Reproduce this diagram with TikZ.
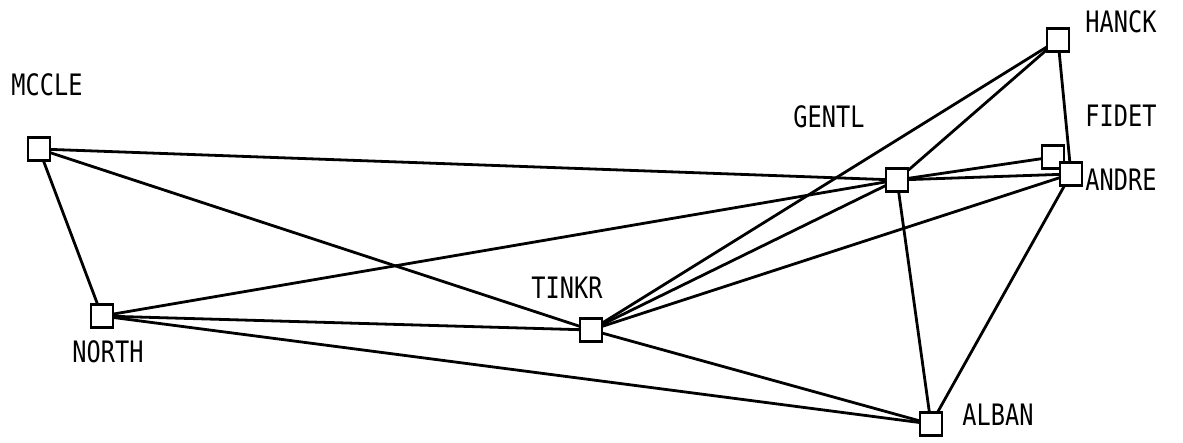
\documentclass[tikz,border=0pt]{standalone}
\usepackage{fontspec}
\setmainfont{DejaVu Sans Mono}[FakeStretch=0.8]
\usetikzlibrary{backgrounds}
\tikzset{
  station/.style={draw, fill=white, line width=2.6pt, minimum width=22pt, minimum height=23pt, inner sep=0pt},
  lbl/.style={font=\fontsize{29.5}{32}\selectfont, inner sep=0pt, anchor=center},
  link/.style={line width=2.8pt}
}
\begin{document}
\begin{tikzpicture}[x=1pt,y=-1pt]
\useasboundingbox (0,0) rectangle (1183,443);
% stations
\node[station] (mccle) at (39,149) {};
\node[station] (north) at (102,316) {};
\node[station] (tinkr) at (591,330) {};
\node[station] (alban) at (931,424) {};
\node[station] (hanck) at (1058,40) {};
\node[station] (gentl) at (897,180) {};
\node[station] (fidet) at (1053,157) {};
\node[station] (andre) at (1071,174) {};
% labels
\node[lbl] (lmccle) at (47,85) {MCCLE};
\node[lbl] (lnorth) at (108,352) {NORTH};
\node[lbl] (ltinkr) at (567,288) {TINKR};
\node[lbl] (lalban) at (998,415) {ALBAN};
\node[lbl] (lhanck) at (1121,22) {HANCK};
\node[lbl] (lfidet) at (1121,116) {FIDET};
\node[lbl] (landre) at (1121,180) {ANDRE};
\node[lbl] (lgentl) at (829,117) {GENTL};
% links
\begin{scope}[on background layer]
\draw[link] (mccle.center) -- (north.center);
\draw[link] (mccle.center) -- (gentl.center);
\draw[link] (mccle.center) -- (tinkr.center);
\draw[link] (north.center) -- (gentl.center);
\draw[link] (north.center) -- (tinkr.center);
\draw[link] (north.center) -- (alban.center);
\draw[link] (tinkr.center) -- (hanck.center);
\draw[link] (tinkr.center) -- (gentl.center);
\draw[link] (tinkr.center) -- (andre.center);
\draw[link] (tinkr.center) -- (alban.center);
\draw[link] (hanck.center) -- (gentl.center);
\draw[link] (hanck.center) -- (andre.center);
\draw[link] (gentl.center) -- (fidet.center);
\draw[link] (gentl.center) -- (andre.center);
\draw[link] (gentl.center) -- (alban.center);
\draw[link] (andre.center) -- (alban.center);
\end{scope}
\end{tikzpicture}
\end{document}
